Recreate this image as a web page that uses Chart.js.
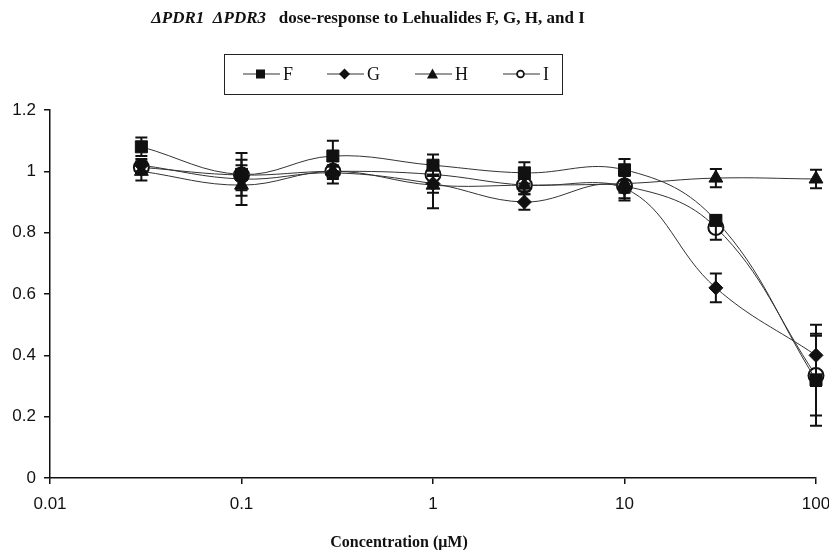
<!DOCTYPE html>
<html lang="en">
<head>
    <meta charset="UTF-8">
    <title>dPDR1 dPDR3 dose-response to Lehualides F, G, H, and I</title>
    <style>
        body {
            margin: 0;
            padding: 0;
            background: #fff;
        }
        #wrap {
            position: relative;
            width: 829px;
            height: 550px;
            overflow: hidden;
        }
        #chartTitle {
            position: absolute;
            left: 0;
            top: 8px;
            width: 736px;
            text-align: center;
            font-family: "Liberation Serif", serif;
            font-weight: bold;
            font-size: 17px;
            color: #111;
            white-space: pre;
        }
        #legend {
            position: absolute;
            left: 224px;
            top: 54px;
            width: 337px;
            height: 39px;
            border: 1.5px solid #222;
        }
        #legend .item {
            position: absolute;
            top: 9px;
            height: 20px;
            font-family: "Liberation Serif", serif;
            font-size: 18px;
            color: #111;
            display: flex;
            align-items: center;
        }
        #legend svg {
            margin-right: 3px;
        }
        #xTitle {
            position: absolute;
            left: 249px;
            width: 300px;
            top: 533px;
            text-align: center;
            font-family: "Liberation Serif", serif;
            font-weight: bold;
            font-size: 16px;
            color: #111;
        }
    </style>
    <script src="https://cdn.jsdelivr.net/npm/chart.js"></script>
</head>
<body>
<div id="wrap">
    <canvas id="doseChart"></canvas>
    <div id="chartTitle"><i>&Delta;PDR1</i>  <i>&Delta;PDR3</i>   dose-response to Lehualides F, G, H, and I</div>
    <div id="legend"></div>
    <div id="xTitle">Concentration (&mu;M)</div>
</div>

<script>
    // concentrations (uM)
    const concentrations = [0.03, 0.1, 0.3, 1, 3, 10, 30, 100];

    const seriesNames = ["F", "G", "H", "I"];
    const F = [1.08, 0.99, 1.05, 1.02, 0.995, 1.005, 0.84, 0.32];
    const G = [1.02, 0.975, 0.995, 0.96, 0.90, 0.945, 0.62, 0.40];
    const H = [1.00, 0.955, 1.00, 0.955, 0.955, 0.96, 0.978, 0.975];
    const I = [1.013, 0.988, 1.00, 0.99, 0.955, 0.952, 0.817, 0.334];

    // error bars (+/-)
    const errF = [0.03, 0.07, 0.05, 0.035, 0.035, 0.035, 0.01, 0.15];
    const errG = [0.02, 0.03, 0.02, 0.03, 0.025, 0.04, 0.047, 0.10];
    const errH = [0.03, 0.065, 0.02, 0.075, 0.02, 0.03, 0.03, 0.03];
    const errI = [0.02, 0.05, 0.04, 0.03, 0.03, 0.04, 0.04, 0.13];

    const xTicks = [0.01, 0.1, 1, 10, 100];
    const yTicks = [0, 0.2, 0.4, 0.6, 0.8, 1, 1.2];

    const markers = [
        { style: "rect", radius: 8.5, fill: "#111" },
        { style: "rectRot", radius: 7, fill: "#111" },
        { style: "triangle", radius: 8, fill: "#111" },
        { style: "circle", radius: 7.5, fill: "#fff" }
    ];

    const values = [F, G, H, I];
    const errors = [errF, errG, errH, errI];

    const errorBars = {
        id: "errorBars",
        afterDatasetsDraw(chart) {
            const ctx = chart.ctx;
            const x = chart.scales.x;
            const y = chart.scales.y;
            ctx.save();
            ctx.strokeStyle = "#111";
            ctx.lineWidth = 2;
            chart.data.datasets.forEach((ds, i) => {
                errors[i].forEach((e, j) => {
                    const px = x.getPixelForValue(concentrations[j]);
                    const top = y.getPixelForValue(values[i][j] + e);
                    const bot = y.getPixelForValue(values[i][j] - e);
                    ctx.beginPath();
                    ctx.moveTo(px, top);
                    ctx.lineTo(px, bot);
                    ctx.moveTo(px - 6, top);
                    ctx.lineTo(px + 6, top);
                    ctx.moveTo(px - 6, bot);
                    ctx.lineTo(px + 6, bot);
                    ctx.stroke();
                });
            });
            ctx.restore();
        }
    };

    const datasets = seriesNames.map((name, i) => ({
        label: name,
        data: concentrations.map((c, j) => ({ x: c, y: values[i][j] })),
        borderColor: "#333",
        borderWidth: 1,
        tension: 0.4,
        clip: false,
        pointStyle: markers[i].style,
        pointRadius: markers[i].radius,
        pointBackgroundColor: markers[i].fill,
        pointBorderColor: "#111",
        pointBorderWidth: i === 3 ? 2 : 1
    }));

    const chart = new Chart(document.getElementById("doseChart"), {
        type: "line",
        data: { datasets: datasets },
        options: {
            responsive: true,
            maintainAspectRatio: false,
            animation: false,
            layout: { padding: { top: 110, right: 13, left: 0, bottom: 0 } },
            plugins: {
                legend: { display: false },
                title: { display: false },
                tooltip: { enabled: false }
            },
            scales: {
                x: {
                    type: "logarithmic",
                    min: 0.01,
                    max: 100,
                    afterBuildTicks(scale) {
                        scale.ticks = xTicks.map(v => ({ value: v }));
                    },
                    afterFit(scale) {
                        scale.height = 72;
                        scale.paddingLeft = 0;
                        scale.paddingRight = 0;
                    },
                    ticks: {
                        color: "#111",
                        font: { family: "Liberation Sans", size: 17 },
                        padding: 10,
                        maxRotation: 0,
                        autoSkip: false,
                        callback: v => String(v)
                    },
                    grid: { drawOnChartArea: false, drawTicks: true, tickLength: 6, color: "#111", lineWidth: 1.5 },
                    border: { display: true, color: "#111", width: 1.5 }
                },
                y: {
                    min: 0,
                    max: 1.2,
                    afterBuildTicks(scale) {
                        scale.ticks = yTicks.map(v => ({ value: v }));
                    },
                    afterFit(scale) { scale.width = 50; },
                    ticks: {
                        color: "#111",
                        font: { family: "Liberation Sans", size: 17 },
                        padding: 8,
                        callback: v => String(Number(v.toFixed(1)))
                    },
                    grid: { drawOnChartArea: false, drawTicks: true, tickLength: 6, color: "#111", lineWidth: 1.5 },
                    border: { display: true, color: "#111", width: 1.5 }
                }
            }
        },
        plugins: [errorBars]
    });

    // legend box, built from the datasets
    const legendPos = [18, 102, 190, 278];
    const legendSvg = [
        '<rect x="13" y="5.5" width="9" height="9" fill="#111"/>',
        '<polygon points="17.5,4.5 23,10 17.5,15.5 12,10" fill="#111"/>',
        '<polygon points="17.5,4.5 23,14.5 12,14.5" fill="#111"/>',
        '<circle cx="17.5" cy="10" r="3.4" fill="#fff" stroke="#111" stroke-width="1.8"/>'
    ];
    const legendEl = document.getElementById("legend");
    chart.data.datasets.forEach((ds, i) => {
        const item = document.createElement("div");
        item.className = "item";
        item.style.left = legendPos[i] + "px";
        item.innerHTML = '<svg width="37" height="20"><line x1="0" y1="10" x2="37" y2="10" stroke="#333" stroke-width="1"/>' +
            legendSvg[i] + '</svg>' + ds.label;
        legendEl.appendChild(item);
    });
</script>
</body>
</html>
